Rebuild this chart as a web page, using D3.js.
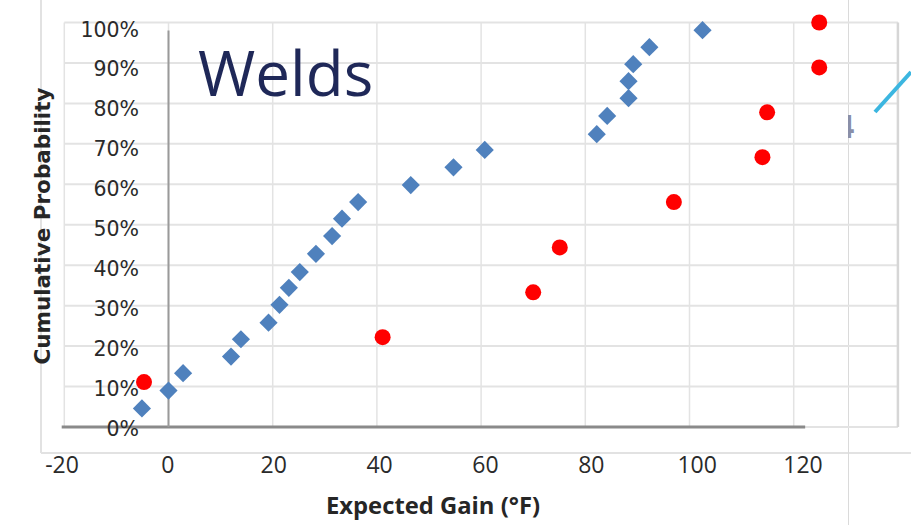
<!DOCTYPE html>
<html>
<head>
<meta charset="utf-8">
<script src="https://cdn.jsdelivr.net/npm/d3@7"></script>
<style>
  body { margin: 0; background: #fff; }
  svg { display: block; }
</style>
</head>
<body>
<svg width="911" height="525"></svg>
<script>
(function (d3) {
  'use strict';

  // welds, expected gain (F) vs cumulative probability
  const blueGain = [-5.1, 0.0, 2.8, 12.0, 13.9, 19.2, 21.3, 23.1, 25.2, 28.3, 31.4, 33.3,
    36.4, 46.5, 54.7, 60.7, 82.2, 84.2, 88.3, 88.3, 89.2, 92.3, 102.5];
  const blueProb = [0.046, 0.090, 0.133, 0.174, 0.217, 0.258, 0.302, 0.344, 0.383, 0.428,
    0.472, 0.515, 0.556, 0.598, 0.642, 0.685, 0.724, 0.769, 0.813, 0.855, 0.897, 0.939, 0.981];

  const redGain = [-4.7, 41.1, 70.0, 75.1, 97.0, 114.0, 114.9, 124.9, 124.9];
  const redProb = [0.111, 0.222, 0.333, 0.444, 0.556, 0.667, 0.778, 0.889, 1.0];

  const xTicks = [-20, 0, 20, 40, 60, 80, 100, 120];
  const xGridTicks = [-20, 0, 20, 40, 60, 80, 100, 120, 140];
  const yTicks = [0, 0.1, 0.2, 0.3, 0.4, 0.5, 0.6, 0.7, 0.8, 0.9, 1];

  const svg = d3.select('svg');
  const width = +svg.attr('width');
  const height = +svg.attr('height');

  svg.append('rect')
    .attr('width', width)
    .attr('height', height)
    .attr('fill', '#fff');

  // plot area (the pasted chart grid)
  const xScale = d3.scaleLinear().domain([-20, 140]).range([64.3, 897.9]);
  const yScale = d3.scaleLinear().domain([0, 1]).range([427, 22.5]);

  // outer chart frame labels sit on a slightly different scale
  const xLabelScale = d3.scaleLinear().domain([-20, 120]).range([61.5, 802.5]);
  const yLabelScale = d3.scaleLinear().domain([0, 1]).range([428.5, 29.5]);

  // outer frame lines
  svg.append('line')
    .attr('x1', 41).attr('x2', 41)
    .attr('y1', 0).attr('y2', 453)
    .attr('stroke', '#e2e2e2').attr('stroke-width', 2);
  svg.append('line')
    .attr('x1', 41).attr('x2', width)
    .attr('y1', 453).attr('y2', 453)
    .attr('stroke', '#e2e2e2').attr('stroke-width', 2);
  svg.append('line')
    .attr('x1', 848.5).attr('x2', 848.5)
    .attr('y1', 0).attr('y2', height)
    .attr('stroke', '#dadada').attr('stroke-width', 1);

  // gridlines
  const grid = svg.append('g').attr('class', 'grid');
  grid.selectAll('.h').data(yTicks)
    .enter().append('line')
      .attr('class', 'h')
      .attr('x1', xScale(-20))
      .attr('x2', xScale(140))
      .attr('y1', d => yScale(d))
      .attr('y2', d => yScale(d))
      .attr('stroke', '#e3e3e3')
      .attr('stroke-width', 2);
  grid.selectAll('.v').data(xGridTicks)
    .enter().append('line')
      .attr('class', 'v')
      .attr('x1', d => xScale(d))
      .attr('x2', d => xScale(d))
      .attr('y1', yScale(1))
      .attr('y2', yScale(0))
      .attr('stroke', d => d === 140 ? '#d6d6d6' : '#e3e3e3')
      .attr('stroke-width', d => d === 140 ? 2.5 : 1.5);

  // dark axis lines
  svg.append('line')
    .attr('x1', xScale(-20.5)).attr('x2', xScale(122.2))
    .attr('y1', yScale(0)).attr('y2', yScale(0))
    .attr('stroke', '#8a8a8a').attr('stroke-width', 3);
  svg.append('line')
    .attr('x1', xScale(0)).attr('x2', xScale(0))
    .attr('y1', yScale(0.98)).attr('y2', yScale(0))
    .attr('stroke', '#9a9a9a').attr('stroke-width', 2);

  // y tick labels
  const yAxis = d3.axisLeft(yLabelScale)
    .tickValues(yTicks)
    .tickFormat(d3.format('.0%'))
    .tickSize(0)
    .tickPadding(3);
  const yAxisG = svg.append('g')
    .attr('transform', 'translate(142,0)')
    .call(yAxis);
  yAxisG.select('.domain').remove();
  yAxisG.selectAll('text')
    .attr('font-family', 'DejaVu Sans, sans-serif')
    .attr('font-size', 20.5)
    .attr('fill', '#2a2a2a');

  // x tick labels (plain hyphen for negatives, like the original)
  const xAxis = d3.axisBottom(xLabelScale)
    .tickValues(xTicks)
    .tickFormat(d => String(d))
    .tickSize(0)
    .tickPadding(5);
  const xAxisG = svg.append('g')
    .attr('transform', 'translate(0,452)')
    .call(xAxis);
  xAxisG.select('.domain').remove();
  xAxisG.selectAll('text')
    .attr('font-family', 'Open Sans, sans-serif')
    .attr('font-size', 23)
    .attr('fill', '#2a2a2a');

  // axis titles
  svg.append('text')
    .attr('x', 433)
    .attr('y', 514)
    .attr('text-anchor', 'middle')
    .attr('font-family', 'Open Sans, sans-serif')
    .attr('font-weight', 'bold')
    .attr('font-size', 24)
    .attr('fill', '#262626')
    .attr('textLength', 214)
    .attr('lengthAdjust', 'spacingAndGlyphs')
    .text('Expected Gain (°F)');

  svg.append('text')
    .attr('transform', 'translate(50,226) rotate(-90)')
    .attr('text-anchor', 'middle')
    .attr('font-family', 'DejaVu Sans, sans-serif')
    .attr('font-weight', 'bold')
    .attr('font-size', 21)
    .attr('fill', '#262626')
    .attr('textLength', 277)
    .attr('lengthAdjust', 'spacingAndGlyphs')
    .text('Cumulative Probability');

  // slide title
  svg.append('text')
    .attr('x', 198)
    .attr('y', 96)
    .attr('font-family', 'Open Sans, sans-serif')
    .attr('font-size', 62)
    .attr('fill', '#1f2858')
    .text('Welds');

  // marks
  const blueData = blueGain.map((g, i) => ({ gain: g, prob: blueProb[i] }));
  const redData = redGain.map((g, i) => ({ gain: g, prob: redProb[i] }));

  const diamond = d3.symbol().type(d3.symbolSquare).size(165);

  svg.append('g').selectAll('path').data(blueData)
    .enter().append('path')
      .attr('d', diamond)
      .attr('transform', d => `translate(${xScale(d.gain)},${yScale(d.prob)}) rotate(45)`)
      .attr('fill', '#4f81bd');

  svg.append('g').selectAll('circle').data(redData)
    .enter().append('circle')
      .attr('cx', d => xScale(d.gain))
      .attr('cy', d => yScale(d.prob))
      .attr('r', 8)
      .attr('fill', '#ff0000');

  // bits of the neighbouring slide content
  svg.append('clipPath')
    .attr('id', 'clip-right')
    .append('rect')
      .attr('x', 848).attr('y', 0)
      .attr('width', 63).attr('height', height);
  svg.append('text')
    .attr('x', 836)
    .attr('y', 138)
    .attr('clip-path', 'url(#clip-right)')
    .attr('font-family', 'Open Sans, sans-serif')
    .attr('font-weight', 'bold')
    .attr('font-size', 32)
    .attr('fill', '#8a8fa8')
    .text('4');
  svg.append('line')
    .attr('x1', 875).attr('y1', 112)
    .attr('x2', 911).attr('y2', 72)
    .attr('stroke', '#3cb6e0')
    .attr('stroke-width', 4);

}(d3));
</script>
</body>
</html>
